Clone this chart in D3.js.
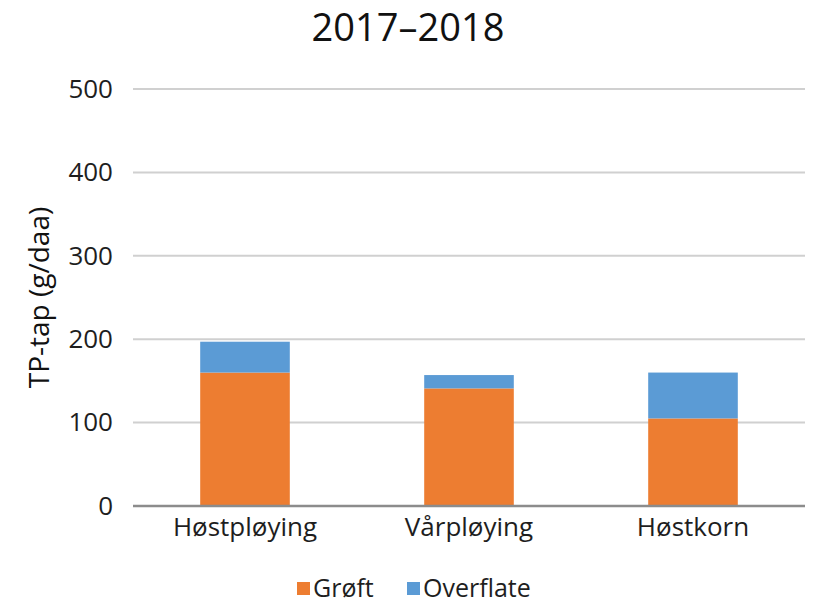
<!DOCTYPE html>
<html>
<head>
<meta charset="utf-8">
<script src="https://cdn.jsdelivr.net/npm/d3@7"></script>
<style>
  html, body { margin: 0; padding: 0; background: #fff; }
  svg { display: block; font-family: "Open Sans", "Liberation Sans", sans-serif; }
</style>
</head>
<body>
<svg id="chart" width="817" height="603"></svg>
<script>
// Phosphorus loss per tillage practice, 2017–2018
const categories = ["Høstpløying", "Vårpløying", "Høstkorn"];
const seriesNames = ["Grøft", "Overflate"];
const groftValues = [160, 141, 105];
const overflateValues = [37, 16, 55];
const yTicks = [0, 100, 200, 300, 400, 500];
const colors = ["#ED7D31", "#5B9BD5"];

const svg = d3.select("#chart");
const margin = { left: 133, right: 12, top: 89, bottom: 97 };
const W = 817, H = 603;
const textColor = "#1e1e1e";

const x = d3.scaleBand()
  .domain(categories)
  .range([margin.left, W - margin.right])
  .paddingInner(0.6)
  .paddingOuter(0.3);

const y = d3.scaleLinear()
  .domain([0, 500])
  .range([H - margin.bottom, margin.top]);

// Title
svg.append("text")
  .attr("x", 408).attr("y", 41)
  .attr("text-anchor", "middle")
  .attr("font-size", 38)
  .attr("font-weight", 500)
  .attr("fill", "#111")
  .text("2017–2018");

// Gridlines
svg.append("g")
  .selectAll("line")
  .data(yTicks.filter(d => d > 0))
  .join("line")
  .attr("x1", margin.left).attr("x2", W - margin.right)
  .attr("y1", d => y(d)).attr("y2", d => y(d))
  .attr("stroke", "#d0d0d0").attr("stroke-width", 2);

// Y axis labels
const yAxis = d3.axisLeft(y).tickValues(yTicks).tickSize(0).tickPadding(20);
const ya = svg.append("g").attr("transform", `translate(${margin.left},0)`).call(yAxis);
ya.select(".domain").remove();
ya.selectAll("text").attr("font-size", 26).attr("font-weight", 500).attr("fill", textColor)
  .attr("font-family", "'Open Sans', sans-serif");

// Stacked bars
const rows = categories.map((c, i) => ({ cat: c, "Grøft": groftValues[i], "Overflate": overflateValues[i] }));
const stacked = d3.stack().keys(seriesNames)(rows);

svg.append("g")
  .selectAll("g")
  .data(stacked)
  .join("g")
  .attr("fill", (d, i) => colors[i])
  .selectAll("rect")
  .data(d => d)
  .join("rect")
  .attr("x", d => x(d.data.cat))
  .attr("width", x.bandwidth())
  .attr("y", d => y(d[1]))
  .attr("height", d => y(d[0]) - y(d[1]));

// X axis
const xAxis = d3.axisBottom(x).tickSize(0).tickPadding(12);
const xa = svg.append("g").attr("transform", `translate(0,${y(0)})`).call(xAxis);
xa.select(".domain").attr("stroke", "#8c8c8c").attr("stroke-width", 2.5)
  .attr("d", `M${margin.left},0H${W - margin.right}`);
xa.selectAll("text").attr("font-size", 26).attr("font-weight", 500).attr("fill", textColor)
  .attr("font-family", "'Open Sans', sans-serif");

// Y axis title
svg.append("text")
  .attr("transform", `translate(49,${(y(0) + y(500)) / 2}) rotate(-90)`)
  .attr("text-anchor", "middle")
  .attr("font-size", 28)
  .attr("font-weight", 500)
  .attr("fill", "#111")
  .text("TP-tap (g/daa)");

// Legend
const legend = svg.append("g").attr("transform", "translate(297,597)");
const legendX = [0, 110];
seriesNames.forEach((name, i) => {
  const g = legend.append("g").attr("transform", `translate(${legendX[i]},0)`);
  g.append("rect").attr("x", 0).attr("y", -15).attr("width", 13).attr("height", 13).attr("fill", colors[i]);
  g.append("text").attr("x", 16).attr("y", 0).attr("font-size", 25).attr("font-weight", 500)
    .attr("fill", textColor).text(name);
});
</script>
</body>
</html>
